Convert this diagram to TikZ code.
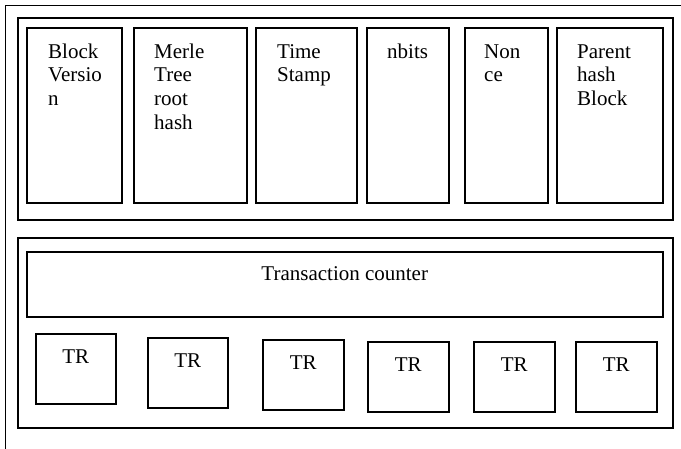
\documentclass[tikz,border=0pt]{standalone}
\usepackage{fontspec}
\setmainfont{Liberation Serif}
\begin{document}
\begin{tikzpicture}[x=1pt,y=-1pt,
  box/.style={draw,line width=1.5pt,rectangle,inner sep=0pt,anchor=north west},
  lbl/.style={inner sep=0pt,align=left,anchor=north west,font=\fontsize{21}{23.7}\selectfont},
  ctr/.style={inner sep=0pt,font=\fontsize{21}{23.7}\selectfont}]
\useasboundingbox (0,0) rectangle (681,448);
\begin{scope}
\clip (0,0) rectangle (681,448);
\node[box,line width=1.3pt,minimum width=700pt,minimum height=470pt] (outer) at (5,4.5) {};
\end{scope}
% upper header group
\node[box,minimum width=655pt,minimum height=202pt] (head) at (17,17) {};
\node[box,minimum width=95pt,minimum height=175pt] (b1) at (26,27) {};
\node[box,minimum width=113pt,minimum height=175pt] (b2) at (133,27) {};
\node[box,minimum width=101pt,minimum height=175pt] (b3) at (255,27) {};
\node[box,minimum width=82pt,minimum height=175pt] (b4) at (366,27) {};
\node[box,minimum width=83pt,minimum height=175pt] (b5) at (464,27) {};
\node[box,minimum width=106pt,minimum height=175pt] (b6) at (556,27) {};
\node[lbl] (t1) at ([xshift=22pt,yshift=-14.4pt]b1.north west) {\strut Block\\Versio\\n};
\node[lbl] (t2) at ([xshift=21pt,yshift=-14.4pt]b2.north west) {\strut Merle\\Tree\\root\\hash};
\node[lbl] (t3) at ([xshift=22pt,yshift=-14.4pt]b3.north west) {\strut Time\\Stamp};
\node[lbl] (t4) at ([xshift=21pt,yshift=-14.4pt]b4.north west) {\strut nbits};
\node[lbl] (t5) at ([xshift=20pt,yshift=-14.4pt]b5.north west) {\strut Non\\ce};
\node[lbl] (t6) at ([xshift=21pt,yshift=-14.4pt]b6.north west) {\strut Parent\\hash\\Block};
% lower transaction group
\node[box,minimum width=655pt,minimum height=190pt] (body) at (17,237) {};
\node[box,minimum width=636pt,minimum height=65pt] (cnt) at (26,251) {};
\node[ctr,anchor=base] (tc) at ([yshift=-29pt]cnt.north) {Transaction counter};
\node[box,minimum width=80pt,minimum height=70pt] (r1) at (35,333) {};
\node[box,minimum width=80pt,minimum height=70pt] (r2) at (147,337) {};
\node[box,minimum width=81pt,minimum height=70pt] (r3) at (262,339) {};
\node[box,minimum width=81pt,minimum height=70pt] (r4) at (367,341) {};
\node[box,minimum width=81pt,minimum height=70pt] (r5) at (473,341) {};
\node[box,minimum width=81pt,minimum height=70pt] (r6) at (575,341) {};
\foreach \r in {r1,r2,r3,r4,r5,r6}
  \node[ctr,anchor=base] (\r t) at ([yshift=-30pt]\r.north) {TR};
\end{tikzpicture}
\end{document}
